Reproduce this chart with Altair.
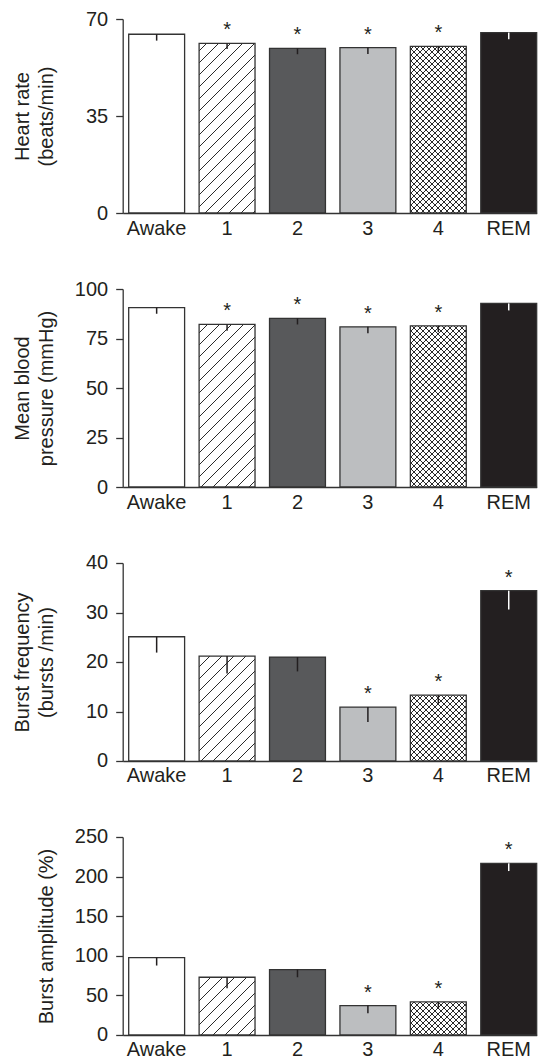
import math
import altair as alt
import pandas as pd

# ---------------- data ----------------
stages = ["Awake", "1", "2", "3", "4", "REM"]

hr_values = [64.5, 61.2, 59.4, 59.7, 60.1, 65.1]
hr_errors = [2.3, 2.0, 2.1, 2.3, 2.1, 2.4]
hr_sig = [0, 1, 1, 1, 1, 0]

mbp_values = [90.6, 82.1, 85.2, 80.9, 81.4, 92.7]
mbp_errors = [3.1, 3.2, 3.1, 3.3, 3.2, 3.5]
mbp_sig = [0, 1, 1, 1, 1, 0]

bf_values = [25.1, 21.2, 21.0, 10.9, 13.3, 34.4]
bf_errors = [3.2, 3.5, 2.9, 3.0, 1.6, 3.8]
bf_sig = [0, 0, 0, 1, 1, 1]

ba_values = [97.8, 72.9, 82.6, 37.1, 41.7, 216.7]
ba_errors = [10.1, 13.9, 9.7, 9.7, 8.8, 9.7]
ba_sig = [0, 0, 0, 1, 1, 1]

hr_ticks = [0, 35, 70]
mbp_ticks = [0, 25, 50, 75, 100]
bf_ticks = [0, 10, 20, 30, 40]
ba_ticks = [0, 50, 100, 150, 200, 250]

hr_title = ["Heart rate", "(beats/min)"]
mbp_title = ["Mean blood", "pressure (mmHg)"]
bf_title = ["Burst frequency", "(bursts /min)"]
ba_title = ["", "Burst amplitude (%)"]

# ---------------- style ----------------
FONT = "Liberation Sans, Arial, Helvetica, sans-serif"
INK = "#231f20"
OUTLINE = "#333333"
HATCH = "#2a2a2a"
fill_colors = ["#ffffff", "#ffffff", "#58595b", "#bcbec0", "#ffffff", "#231f20"]
err_colors = [INK, INK, INK, INK, INK, "#ffffff"]

# hatching: stage -> (directions, horizontal period px, horizontal line width px)
hatch_styles = {"1": (["/"], 12, 1.3), "4": (["/", "\\"], 6, 1.0)}
SEG = 24  # hatch tile height in px (multiple of both periods)

W = 414
PAD_IN = 0.206
PAD_OUT = 0.0426
ALIGN = 1.0
N = len(stages)
STEP = W / (N - PAD_IN + 2 * PAD_OUT)
BW = STEP * (1 - PAD_IN)
START = (W - STEP * (N - PAD_IN)) * ALIGN


def hatch_gradient(w, h, x0, y0, period, thick, color, direction):
    """Linear gradient (bbox units) drawing 45-degree lines in a w x h rect whose
    top-left corner sits at plot pixel (x0, y0); lines are phase-locked to the plot."""
    L = w + h
    if direction == "/":
        phase = (-(x0 + y0)) % period
    else:
        phase = (-(x0 - y0) + h) % period
    a = (w + h) / (w * w + h * h)
    if direction == "/":
        x1, y1, x2, y2 = 0.0, 0.0, a * w, a * h
    else:
        x1, y1, x2, y2 = 0.0, 1.0, a * w, 1.0 - a * h
    clear = "rgba(255,255,255,0)"
    stops = []
    last = 0.0
    k = -1
    while True:
        c = phase + k * period
        lo = (c - thick / 2) / L
        hi = (c + thick / 2) / L
        k += 1
        if lo >= 1:
            break
        if hi <= 0:
            continue
        lo = max(lo, last, 0.0)
        hi = min(hi, 1.0)
        stops += [
            {"offset": round(lo, 6), "color": clear},
            {"offset": round(lo, 6), "color": color},
            {"offset": round(hi, 6), "color": color},
            {"offset": round(hi, 6), "color": clear},
        ]
        last = hi
    if not stops:
        stops = [{"offset": 0, "color": clear}, {"offset": 1, "color": clear}]
    return {"gradient": "linear", "x1": x1, "y1": y1, "x2": x2, "y2": y2, "stops": stops}


def panel(values, errors, sig, ticks, title, height):
    ymax = ticks[-1]
    px = height / ymax  # pixels per unit
    df = pd.DataFrame({
        "stage": stages,
        "value": values,
        "low": [v - e for v, e in zip(values, errors)],
        "sig": sig,
    })
    x = alt.X("stage:N", sort=stages,
              scale=alt.Scale(domain=stages, paddingInner=PAD_IN, paddingOuter=PAD_OUT,
                              align=ALIGN),
              axis=alt.Axis(title=None, labelAngle=0, ticks=False, labelPadding=5,
                            domainWidth=1.3))
    yscale = alt.Scale(domain=[0, ymax], nice=False, zero=True)
    y = alt.Y("value:Q", scale=yscale,
              axis=alt.Axis(values=ticks, tickCount=len(ticks), title=title,
                            titleX=-94, titleY=height / 2,
                            titleAngle=270, titleAlign="center", titleBaseline="alphabetic",
                            titleLineHeight=24, tickSize=7, labelPadding=8,
                            labelOverlap=False,
                            domainWidth=1.3, tickWidth=1.3, grid=False))
    base = alt.Chart(df)
    fill = base.mark_bar(strokeWidth=0).encode(
        x=x, y=y,
        fill=alt.Fill("stage:N", scale=alt.Scale(domain=stages, range=fill_colors), legend=None),
    )
    layers = [fill]

    # hatch tiles: each hatched bar is cut into SEG-px tiles from the baseline up
    seg_rows = []
    for st in hatch_styles:
        v = values[stages.index(st)]
        seg_u = SEG / px
        n_full = int(v // seg_u)
        rem_px = (v - n_full * seg_u) * px
        if rem_px < 2 and n_full > 0:
            n_full -= 1
        for k in range(n_full):
            seg_rows.append({"stage": st, "kind": "full", "y0": k * seg_u, "y1": (k + 1) * seg_u})
        seg_rows.append({"stage": st, "kind": "top", "y0": n_full * seg_u, "y1": v})
    segs = pd.DataFrame(seg_rows)
    sbase = alt.Chart(segs)
    for st, (dirs, period, thick) in hatch_styles.items():
        i = stages.index(st)
        x0 = START + i * STEP
        for kind in ["full", "top"]:
            rows = segs[(segs.stage == st) & (segs.kind == kind)]
            if rows.empty:
                continue
            r = rows.iloc[-1]
            h = (r.y1 - r.y0) * px
            top_px = height - r.y1 * px
            for d in dirs:
                g = hatch_gradient(BW, h, x0, top_px, period, thick, HATCH, d)
                layers.append(
                    sbase.mark_bar(fill=g, strokeWidth=0)
                    .encode(x=x, y=alt.Y("y0:Q", scale=yscale), y2="y1:Q")
                    .transform_filter((alt.datum.stage == st) & (alt.datum.kind == kind))
                )

    outline = base.mark_bar(fillOpacity=0, stroke=OUTLINE, strokeWidth=1.3).encode(x=x, y=y)
    err = base.mark_rule(strokeWidth=1.5).encode(
        x=x, y=y, y2="low:Q",
        color=alt.Color("stage:N", scale=alt.Scale(domain=stages, range=err_colors), legend=None),
    )
    stars = base.mark_text(text="*", fontSize=20, font=FONT, color=INK,
                           baseline="alphabetic", dy=-7).encode(
        x=x, y=y
    ).transform_filter(alt.datum.sig == 1)
    layers += [outline, err, stars]
    return alt.layer(*layers).properties(width=W, height=height)


p1 = panel(hr_values, hr_errors, hr_sig, hr_ticks, hr_title, 194)
p2 = panel(mbp_values, mbp_errors, mbp_sig, mbp_ticks, mbp_title, 198)
p3 = panel(bf_values, bf_errors, bf_sig, bf_ticks, bf_title, 198)
p4 = panel(ba_values, ba_errors, ba_sig, ba_ticks, ba_title, 198)

chart = (
    alt.vconcat(p1, p2, p3, p4, spacing=76, bounds="flush")
    .properties(padding={"left": 4.7, "top": 1, "right": 0, "bottom": 0})
    .configure_view(stroke=None)
    .configure_axis(
        labelFont=FONT, labelFontSize=20, labelColor=INK,
        titleFont=FONT, titleFontSize=20, titleFontWeight="normal", titleColor=INK,
        domainColor=OUTLINE, tickColor=OUTLINE, labelOverlap=False,
    )
)

chart.save("out.html", embed_options={"renderer": "svg", "actions": False})
